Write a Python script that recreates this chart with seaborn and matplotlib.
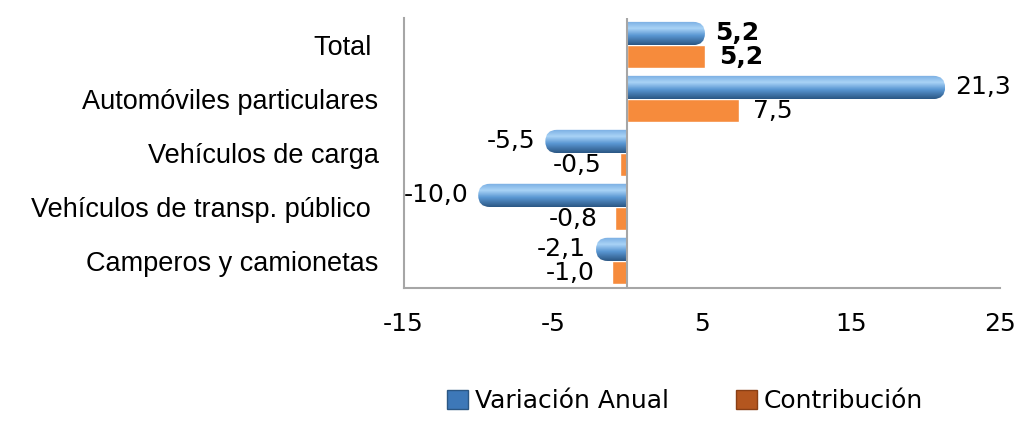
import numpy as np
import pandas as pd
import matplotlib
matplotlib.use("Agg")
import matplotlib.pyplot as plt
import seaborn as sns
from matplotlib.patches import FancyBboxPatch, Patch
from matplotlib.colors import LinearSegmentedColormap

# datos
categorias = ["Total ", "Automóviles particulares", "Vehículos de carga",
              "Vehículos de transp. público ", "Camperos y camionetas"]
variacion = [5.2, 21.3, -5.5, -10.0, -2.1]
contribucion = [5.2, 7.5, -0.5, -0.8, -1.0]
series = ["Variación Anual", "Contribución"]
xticks = [-15, -5, 5, 15, 25]

df = pd.DataFrame({
    "categoria": categorias * 2,
    "serie": [series[0]] * len(categorias) + [series[1]] * len(categorias),
    "valor": variacion + contribucion,
})

sns.set_style("white")
plt.rcParams["font.family"] = ["DejaVu Sans"]
plt.rcParams["text.color"] = "black"
plt.rcParams["xtick.color"] = "black"
plt.rcParams["ytick.color"] = "black"

fig = plt.figure(figsize=(10.27, 4.21), dpi=100)
ax = fig.add_axes([0.393, 0.316, 0.581, 0.641])
sns.barplot(data=df, y="categoria", x="valor", hue="serie", orient="h",
            palette=["#5b9bd5", "#f68b3c"], saturation=1, width=0.86,
            legend=False, ax=ax)

ax.set_xlim(-15, 25)
ax.set_ylim(4.5, -0.5)
ax.set_xticks(xticks)
ax.set_xticklabels([str(t) for t in xticks])
ax.tick_params(axis="x", length=0, pad=17, labelsize=18, labelcolor="black")
ax.tick_params(axis="y", length=0, pad=18, labelcolor="black")
for lab in ax.get_yticklabels():
    lab.set_fontfamily("Liberation Sans")
    lab.set_fontsize(19.5)
ax.set_xlabel("")
ax.set_ylabel("")
for s in ["top", "right"]:
    ax.spines[s].set_visible(False)
for s in ["left", "bottom"]:
    ax.spines[s].set_color("#a6a6a6")
    ax.spines[s].set_linewidth(1.5)

# barras azules redondeadas con degradado
fig.canvas.draw()
sx = ax.bbox.width / 40.0
sy = ax.bbox.height / 5.0
cmap = LinearSegmentedColormap.from_list(
    "azul", [(0, "#78ade2"), (0.3, "#a9d3f6"), (0.6, "#5a97d3"), (1, "#2b5784")])
grad = np.linspace(0, 1, 64).reshape(-1, 1)

for rect, v in zip(ax.containers[0], variacion):
    y, h = rect.get_y(), rect.get_height()
    rect.set_visible(False)
    r_px = h * sy / 2
    rs = r_px / sx
    aspect = (h / 2) / rs
    if v >= 0:
        x0, w = -rs, v + rs
        ext = (0, v, y + h, y)
    else:
        x0, w = v, -v + rs
        ext = (v, 0, y + h, y)
    patch = FancyBboxPatch((x0, y), w, h, boxstyle=f"round,pad=0,rounding_size={rs}",
                           mutation_aspect=aspect, facecolor="none", edgecolor="none")
    ax.add_patch(patch)
    im = ax.imshow(grad, cmap=cmap, extent=ext, aspect="auto", origin="upper",
                   interpolation="bilinear", zorder=2)
    im.set_clip_path(patch)

ax.set_xlim(-15, 25)
ax.set_ylim(4.5, -0.5)
ax.axvline(0, color="#a6a6a6", lw=1.5, zorder=3)

# etiquetas de datos
def fmt(v):
    return f"{v:.1f}".replace(".", ",")

for i, (rect, v) in enumerate(zip(ax.containers[0], variacion)):
    yc = rect.get_y() + rect.get_height() / 2
    off = 10 if v >= 0 else -10
    ax.annotate(fmt(v), (v, yc), xytext=(off, 0), textcoords="offset pixels",
                ha="left" if v >= 0 else "right", va="center", fontsize=18,
                fontweight="bold" if i == 0 else "normal")

for i, (rect, v) in enumerate(zip(ax.containers[1], contribucion)):
    yc = rect.get_y() + rect.get_height() / 2
    off = 14 if v >= 0 else -18
    ax.annotate(fmt(v), (v, yc), xytext=(off, 0), textcoords="offset pixels",
                ha="left" if v >= 0 else "right", va="center", fontsize=18,
                fontweight="bold" if i == 0 else "normal")

handles = [Patch(facecolor="#3d78b8", edgecolor="#2b5784"),
           Patch(facecolor="#b4561f", edgecolor="#8a3f15")]
fig.legend(handles, series, loc="lower center", ncol=2, frameon=False,
           bbox_to_anchor=(0.667, -0.035), columnspacing=2.7, handlelength=0.85,
           handleheight=0.75, handletextpad=0.25, fontsize=18)

fig.savefig("out.png", dpi=100)
